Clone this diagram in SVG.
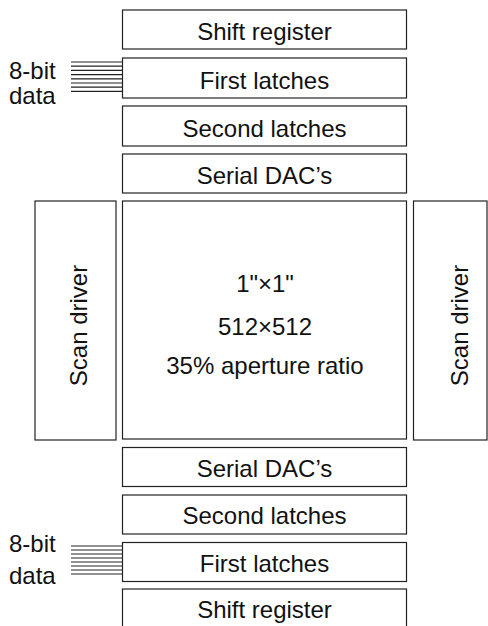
<svg xmlns="http://www.w3.org/2000/svg" width="488" height="626" viewBox="0 0 488 626">
<style>
.b{fill:#fff;stroke:#222;stroke-width:1.2}
.t{font-family:"Liberation Sans",Arial,sans-serif;font-size:24px;fill:#111;text-anchor:middle}
.l{font-family:"Liberation Sans",Arial,sans-serif;font-size:24px;fill:#111}
.w{stroke:#222;stroke-width:1.2}
</style>
<rect width="488" height="626" fill="#fff"/>
<g id="shift-top"><rect class="b" x="122.5" y="10" width="284" height="39"/><text class="t" x="264.5" y="39.5">Shift register</text></g>
<g id="first-top"><rect class="b" x="122.5" y="58" width="284" height="40"/><text class="t" x="264.5" y="89">First latches</text></g>
<g id="second-top"><rect class="b" x="122.5" y="106" width="284" height="40"/><text class="t" x="264.5" y="136.5">Second latches</text></g>
<g id="dac-top"><rect class="b" x="122.5" y="154" width="284" height="39"/><text class="t" x="264.5" y="183.5">Serial DAC’s</text></g>
<g id="scan-left"><rect class="b" x="35" y="201" width="81" height="239"/><text class="t" transform="translate(87,325.5) rotate(-90)">Scan driver</text></g>
<g id="panel"><rect class="b" x="122.5" y="201" width="284" height="238"/>
<text class="t" x="265" y="291.5">1"×1"</text>
<text class="t" x="265" y="335">512×512</text>
<text class="t" x="265" y="374">35% aperture ratio</text></g>
<g id="scan-right"><rect class="b" x="413.5" y="201" width="73.5" height="239"/><text class="t" transform="translate(467.5,325.5) rotate(-90)">Scan driver</text></g>
<g id="dac-bot"><rect class="b" x="122.5" y="447.5" width="284" height="39"/><text class="t" x="264.5" y="476.5">Serial DAC’s</text></g>
<g id="second-bot"><rect class="b" x="122.5" y="495" width="284" height="39"/><text class="t" x="264.5" y="524">Second latches</text></g>
<g id="first-bot"><rect class="b" x="122.5" y="542.5" width="284" height="39"/><text class="t" x="264.5" y="571.5">First latches</text></g>
<g id="shift-bot"><rect class="b" x="122.5" y="589" width="284" height="40"/><text class="t" x="264.5" y="618">Shift register</text></g>
<g id="data-top"><text class="l" x="9" y="79">8-bit</text><text class="l" x="9" y="103.5">data</text></g>
<g id="data-bot"><text class="l" x="9" y="551.5">8-bit</text><text class="l" x="9" y="584">data</text></g>
<g id="connectors">
<g class="w">
<line x1="71" y1="62" x2="122.5" y2="62"/><line x1="71" y1="66.2" x2="122.5" y2="66.2"/><line x1="71" y1="70.4" x2="122.5" y2="70.4"/><line x1="71" y1="74.6" x2="122.5" y2="74.6"/><line x1="71" y1="78.8" x2="122.5" y2="78.8"/><line x1="71" y1="83" x2="122.5" y2="83"/><line x1="71" y1="87.2" x2="122.5" y2="87.2"/><line x1="71" y1="91.4" x2="122.5" y2="91.4"/>
<line x1="71" y1="546" x2="122.5" y2="546"/><line x1="71" y1="550" x2="122.5" y2="550"/><line x1="71" y1="554" x2="122.5" y2="554"/><line x1="71" y1="558" x2="122.5" y2="558"/><line x1="71" y1="562" x2="122.5" y2="562"/><line x1="71" y1="566" x2="122.5" y2="566"/><line x1="71" y1="570" x2="122.5" y2="570"/><line x1="71" y1="574" x2="122.5" y2="574"/>
</g>
</g>
</svg>
